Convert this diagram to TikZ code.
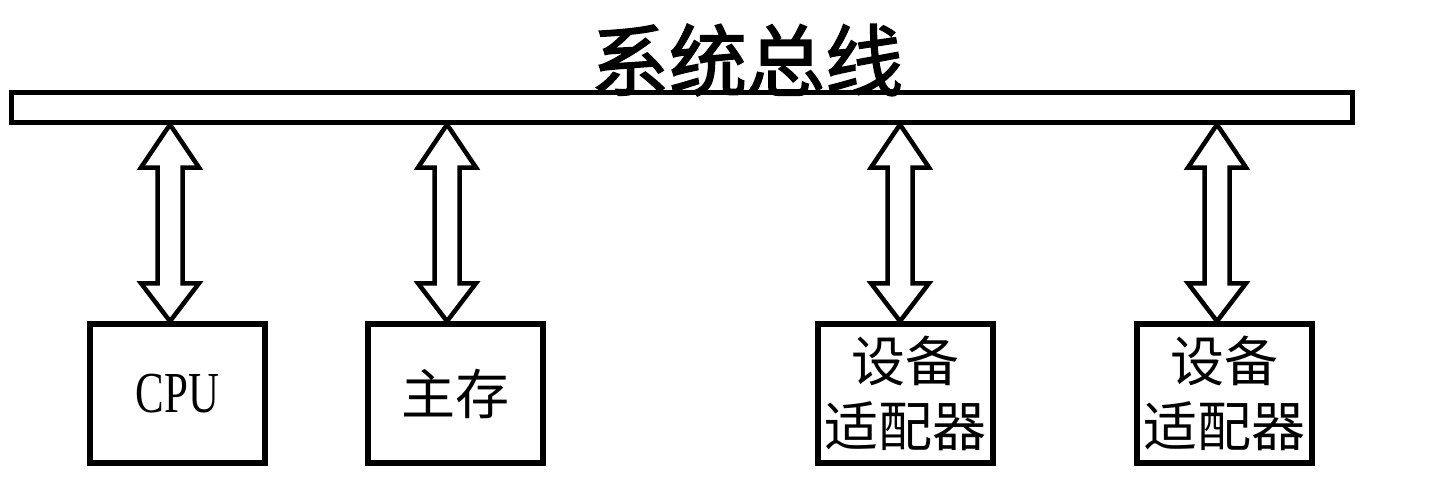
\documentclass[tikz,border=0pt]{standalone}
\usepackage{fontspec}
\usepackage{graphicx}
\setmainfont{Liberation Serif}
\newfontfamily\cjk{Noto Sans CJK SC}
\newfontfamily\cjktitle[FakeBold=2]{Noto Sans CJK SC}
\usetikzlibrary{calc}
\tikzset{
  box/.style={draw, line width=5.5pt, minimum width=175pt, minimum height=139pt, inner sep=0pt, align=center, font=\cjk\fontsize{54}{65}\selectfont},
  busbar/.style={draw, line width=5pt, minimum width=1341pt, minimum height=30pt, inner sep=0pt},
  dbl/.style={draw, line width=4.5pt, fill=white, line join=miter},
  titlefont/.style={font=\cjktitle\fontsize{78}{78}\selectfont, inner sep=0pt}
}
\newcommand\dblarrow[2]{\draw[dbl] let \p1=(#1), \p2=(#2) in
  (\x1,\y1) -- (\x1+29pt,\y1-43pt) -- (\x1+12.5pt,\y1-43pt) -- (\x1+12.5pt,\y2+38pt) -- (\x1+29pt,\y2+38pt) -- (\x2,\y2)
  -- (\x1-29pt,\y2+38pt) -- (\x1-12.5pt,\y2+38pt) -- (\x1-12.5pt,\y1-43pt) -- (\x1-29pt,\y1-43pt) -- cycle;}
\begin{document}
\begin{tikzpicture}[x=1pt,y=-1pt]
\useasboundingbox (0,0) rectangle (1436,483);
\node[busbar] (bus) at (681.5,107) {};
\node[titlefont] (title) at (747,60) {系统总线};
\node[box, font=\rmfamily\fontsize{58}{60}\selectfont] (cpu) at (177.5,393.5) {\scalebox{0.74}[1]{CPU}};
\node[box] (mem) at (455.5,393.5) {主存};
\node[box] (ad1) at (905.5,393.5) {设备\\适配器};
\node[box] (ad2) at (1224.5,393.5) {设备\\适配器};
\coordinate (x1) at (170,0);
\coordinate (x2) at (447,0);
\coordinate (x3) at (900,0);
\coordinate (x4) at (1217,0);
\coordinate (t1) at (bus.south -| x1);
\coordinate (b1) at (cpu.north -| x1);
\coordinate (t2) at (bus.south -| x2);
\coordinate (b2) at (mem.north -| x2);
\coordinate (t3) at (bus.south -| x3);
\coordinate (b3) at (ad1.north -| x3);
\coordinate (t4) at (bus.south -| x4);
\coordinate (b4) at (ad2.north -| x4);
\dblarrow{t1}{b1}
\dblarrow{t2}{b2}
\dblarrow{t3}{b3}
\dblarrow{t4}{b4}
\end{tikzpicture}
\end{document}
